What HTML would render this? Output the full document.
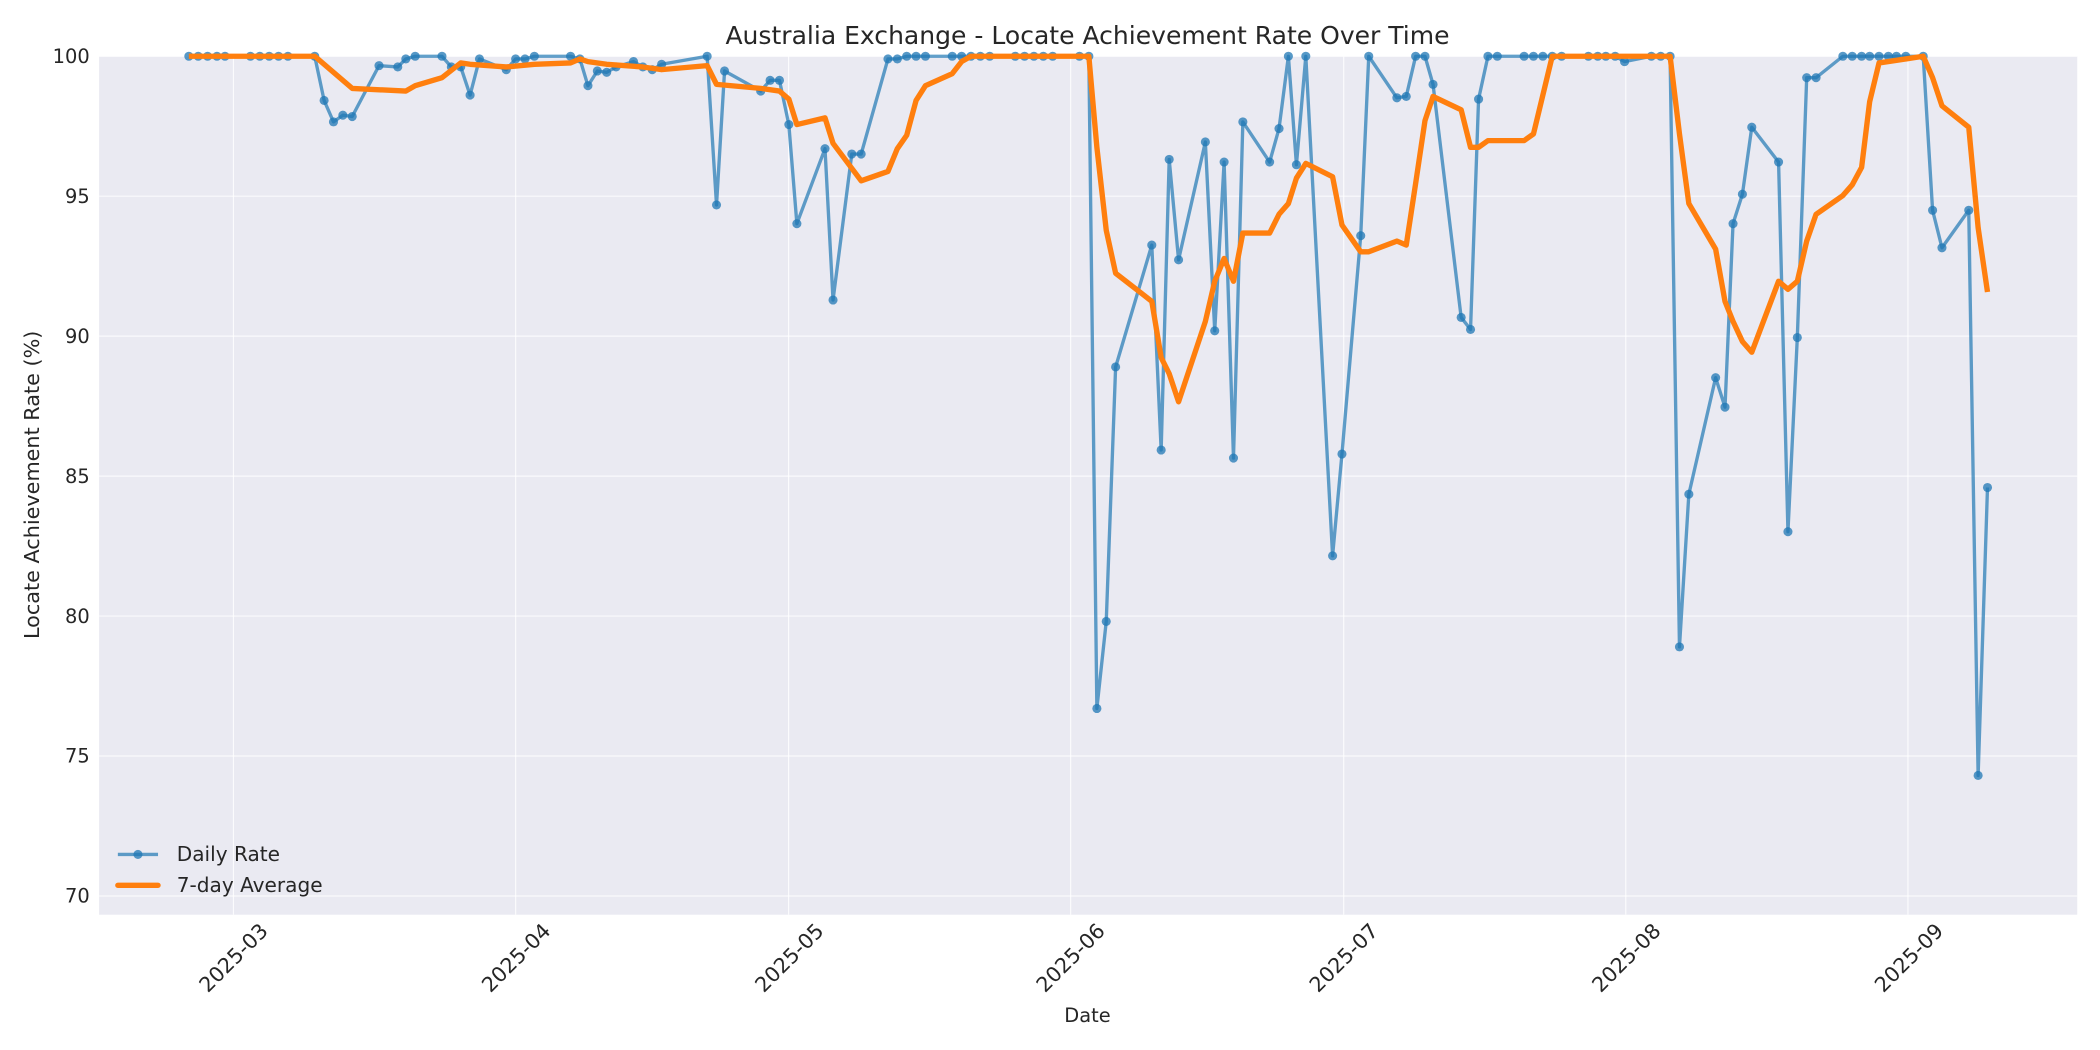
<!DOCTYPE html>
<html><head><meta charset="utf-8"><style>
html,body{margin:0;padding:0;background:#fff;}
svg{display:block;}
text{font-family:"DejaVu Sans","Liberation Sans",sans-serif;fill:#262626;}
</style></head><body>
<svg width="2100" height="1050" viewBox="0 0 1568 784" xmlns="http://www.w3.org/2000/svg">
<defs>
<marker id="m" markerUnits="userSpaceOnUse" markerWidth="9" markerHeight="9" refX="4.5" refY="4.5" viewBox="0 0 9 9"><circle cx="4.5" cy="4.5" r="3.4" fill="#1f77b4" fill-opacity="0.75"/></marker>
</defs>
<rect x="74" y="42" width="1477" height="641" fill="#eaeaf2"/>
<g stroke="#fff" stroke-width="0.9" stroke-opacity="0.8">
<line x1="74" x2="1551" y1="42" y2="42"/><line x1="74" x2="1551" y1="146.5" y2="146.5"/><line x1="74" x2="1551" y1="251" y2="251"/><line x1="74" x2="1551" y1="355.5" y2="355.5"/><line x1="74" x2="1551" y1="460" y2="460"/><line x1="74" x2="1551" y1="564.5" y2="564.5"/><line x1="74" x2="1551" y1="669" y2="669"/>
<line y1="42" y2="683" x1="174.3" x2="174.3"/><line y1="42" y2="683" x1="385" x2="385"/><line y1="42" y2="683" x1="588.8" x2="588.8"/><line y1="42" y2="683" x1="799.4" x2="799.4"/><line y1="42" y2="683" x1="1003.3" x2="1003.3"/><line y1="42" y2="683" x1="1213.9" x2="1213.9"/><line y1="42" y2="683" x1="1424.6" x2="1424.6"/>
</g>
<g font-size="14.5" text-anchor="end">
<text x="67" y="47">100</text><text x="67" y="151.5">95</text><text x="67" y="256">90</text><text x="67" y="360.5">85</text><text x="67" y="465">80</text><text x="67" y="569.5">75</text><text x="67" y="674">70</text>
</g>
<g font-size="15.5" text-anchor="end">
<text transform="translate(201,696) rotate(-45)">2025-03</text>
<text transform="translate(412,696) rotate(-45)">2025-04</text>
<text transform="translate(616,696) rotate(-45)">2025-05</text>
<text transform="translate(826,696) rotate(-45)">2025-06</text>
<text transform="translate(1030,696) rotate(-45)">2025-07</text>
<text transform="translate(1241,696) rotate(-45)">2025-08</text>
<text transform="translate(1452,696) rotate(-45)">2025-09</text>
</g>
<text x="812" y="763" font-size="14.5" text-anchor="middle">Date</text>
<text transform="translate(29,362) rotate(-90)" font-size="15.5" text-anchor="middle">Locate Achievement Rate (%)</text>
<text x="812" y="33" font-size="18.7" text-anchor="middle">Australia Exchange - Locate Achievement Rate Over Time</text>
<polyline fill="none" stroke="#1f77b4" stroke-opacity="0.7" stroke-width="2.5" stroke-linejoin="round" marker-start="url(#m)" marker-mid="url(#m)" marker-end="url(#m)" points="141,42 148,42 155,42 162,42 168,42 187,42 194,42 201,42 208,42 215,42 235,42 242,75 249,91 256,86 263,87 283,49 297,50 303,44 310,42 330,42 337,50 344,50 351,71 358,44 378,52 385,44 392,44 399,42 426,42 433,44 439,64 446,53 453,54 460,50 473,46 480,50 487,52 494,48 528,42 535,153 541,53 568,68 575,60 582,60 589,93 595,167 616,111 622,224 636,115 643,115 663,44 670,44 677,42 684,42 691,42 711,42 718,42 725,42 732,42 739,42 758,42 765,42 772,42 779,42 786,42 806,42 813,42 819,529 826,464 833,274 860,183 867,336 873,119 880,194 900,106 907,247 914,121 921,342 928,91 948,121 955,96 962,42 968,123 975,42 995,415 1002,339 1016,176 1022,42 1043,73 1050,72 1057,42 1064,42 1070,63 1091,237 1098,246 1104,74 1111,42 1118,42 1138,42 1145,42 1152,42 1159,42 1166,42 1186,42 1193,42 1199,42 1206,42 1213,46 1233,42 1240,42 1247,42 1254,483 1261,369 1281,282 1288,304 1294,167 1301,145 1308,95 1328,121 1335,397 1342,252 1349,58 1356,58 1376,42 1383,42 1390,42 1396,42 1403,42 1410,42 1416,42 1423,42 1436,42 1443,157 1450,185 1470,157 1477,579 1484,364"/>
<polyline fill="none" stroke="#ff7f0e" stroke-width="4" stroke-linejoin="round" points="141,42 235,42 263,66 303,68 310,64 330,58 344,47 351,48 378,50 399,48 426,47 433,44 439,46 453,48 480,50 494,52 528,49 535,63 568,66 582,68 589,74 595,93 616,88 622,107 643,135 663,128 670,111 677,101 684,75 691,64 711,55 718,46 725,42 813,42 819,110 826,172 833,204 860,225 867,267 873,279 880,300 900,240 907,210 914,193 921,210 928,174 948,174 955,160 962,152 968,133 975,122 995,132 1002,168 1016,188 1022,188 1043,180 1050,183 1057,137 1064,90 1070,72 1091,82 1098,110 1104,110 1111,105 1138,105 1145,100 1159,42 1247,42 1254,100 1261,152 1281,186 1288,225 1294,240 1301,255 1308,263 1328,210 1335,216 1342,210 1349,180 1356,160 1376,146 1383,138 1390,125 1396,76 1403,47 1423,44 1436,42 1443,58 1450,79 1470,95 1477,170 1484,218"/>
<line x1="88" x2="118" y1="638" y2="638" stroke="#1f77b4" stroke-opacity="0.7" stroke-width="2.5"/>
<circle cx="103" cy="638" r="3.4" fill="#1f77b4" fill-opacity="0.75"/>
<text x="132" y="643" font-size="15">Daily Rate</text>
<line x1="88" x2="118" y1="661" y2="661" stroke="#ff7f0e" stroke-width="4" stroke-linecap="round"/>
<text x="132" y="666" font-size="15">7-day Average</text>
</svg>
</body></html>
